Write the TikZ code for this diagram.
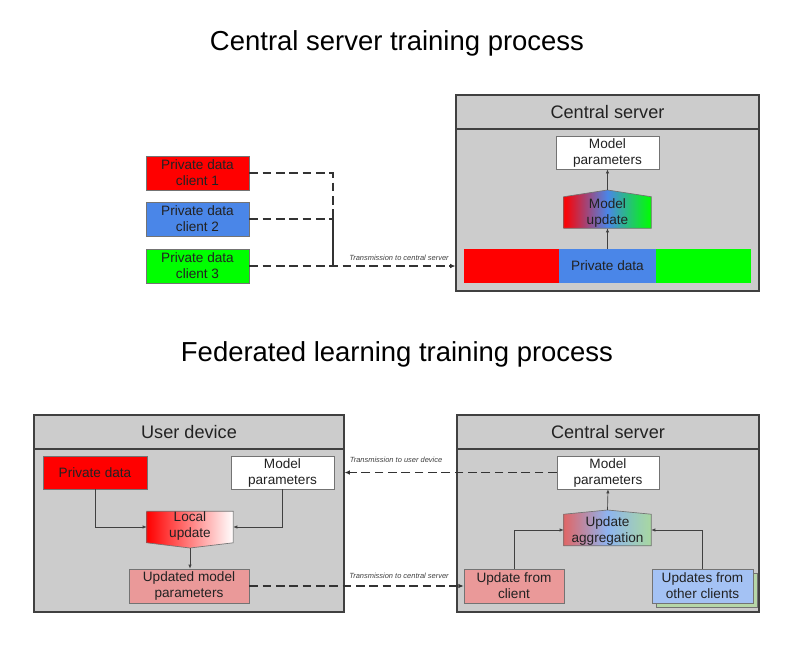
\documentclass[tikz,border=0pt]{standalone}
\usepackage{fontspec}
\setmainfont{Liberation Sans}
\usetikzlibrary{arrows.meta}
\definecolor{boxgray}{HTML}{CCCCCC}
\definecolor{cred}{HTML}{FF0000}
\definecolor{cblue}{HTML}{4A86E8}
\definecolor{cgreen}{HTML}{00FF00}
\definecolor{lred}{HTML}{EA9999}
\definecolor{lblue}{HTML}{A4C2F4}
\definecolor{lgreen}{HTML}{B6D7A8}
\definecolor{pred}{HTML}{E06666}
\definecolor{pblue}{HTML}{8EB4F0}
\definecolor{pgreen}{HTML}{A8D8A0}
\definecolor{txt}{HTML}{222222}
\begin{document}
\begin{tikzpicture}[x=0.75pt,y=-0.75pt,
  font=\fontsize{10.2}{12}\selectfont,
  bx/.style n args={2}{rectangle, inner sep=0pt, align=center, text=txt,
     minimum width=#1*0.75pt, minimum height=#2*0.75pt},
  frame/.style={draw=black!75, line width=0.8pt, fill=boxgray},
  hdr/.style={font=\fontsize{13.6}{15}\selectfont},
  inbox/.style={draw=black!55, line width=0.5pt},
  title/.style={font=\fontsize{20.6}{24}\selectfont, text=black},
  dsh/.style={draw=black!80, line width=1.1pt, dash pattern=on 6.5pt off 3.5pt},
  dtip/.style={-{Latex[length=4pt,width=3.5pt]}},
  conn/.style={draw=black!75, line width=0.5pt, -{Latex[length=3pt,width=2.5pt]}},
  lbl/.style={font=\fontsize{5.6}{6.5}\selectfont\itshape, text=black!75, inner sep=1pt}
]
\useasboundingbox (0,0) rectangle (793,646);

% titles
\node[title] (t1) at (397,43) {Central server training process};
\node[title] (t2) at (397,354) {Federated learning training process};

% ---------- top: central server ----------
\node[bx={303}{196}, frame] (srv1) at (607.5,193) {};
\node[bx={303}{34}, frame, hdr] (srv1h) at (607.5,112) {Central server};
\node[bx={103}{33}, inbox, fill=white] (mp1) at (607.5,152.5) {Model\\parameters};
\node[bx={87}{31}] (upd1) at (607.5,212.5) {};
\coordinate (upd1apex) at (607.5,190);
\shade[left color=cred, right color=cgreen, middle color=cblue, draw=black!55, line width=0.5pt]
  (upd1.south west) -- (upd1.north west) -- (upd1apex) -- (upd1.north east) -- (upd1.south east) -- cycle;
\node[bx={87}{31}] (upd1t) at (607.5,213) {Model\\update};
\node[bx={95}{34}, fill=cred] (pdr) at (511.5,266) {};
\node[bx={97}{34}, fill=cblue] (pdb) at (607.5,266) {Private data};
\node[bx={95}{34}, fill=cgreen] (pdg) at (703.5,266) {};
\draw[conn] (pdb.north) -- (upd1.south);
\draw[conn] (upd1apex) -- (mp1.south);

% clients
\node[bx={103}{34}, inbox, fill=cred] (c1) at (197.5,173) {Private data\\client 1};
\node[bx={103}{34}, inbox, fill=cblue] (c2) at (197.5,219) {Private data\\client 2};
\node[bx={103}{34}, inbox, fill=cgreen] (c3) at (197.5,266) {Private data\\client 3};
\coordinate (j1) at (333,266);
\draw[dsh] (c1.east) -| (j1);
\draw[dsh] (c2.east) -| (j1);
\draw[dsh, dtip] (c3.east) -- (c3.east -| srv1.west);
\node[lbl, anchor=south] (l1) at (399,262) {Transmission to central server};

% ---------- bottom: user device ----------
\node[bx={310}{197}, frame] (ud) at (189,513.5) {};
\node[bx={310}{34}, frame, hdr] (udh) at (189,432) {User device};
\node[bx={104}{33}, inbox, fill=cred] (pd2) at (95,472.5) {Private data};
\node[bx={103}{33}, inbox, fill=white] (mp2) at (282.5,472.5) {Model\\parameters};
\node[bx={86}{31}] (lu) at (190,527) {};
\coordinate (lutip) at (190,548);
\shade[left color=cred, right color=white, draw=black!55, line width=0.5pt]
  (lu.north west) -- (lu.south west) -- (lutip) -- (lu.south east) -- (lu.north east) -- cycle;
\node[bx={86}{31}] (lut) at (190,526) {Local\\update};
\node[bx={120}{34}, inbox, fill=lred] (ump) at (189,586) {Updated model\\parameters};
\draw[conn] (pd2.south) |- (lu.west);
\draw[conn] (mp2.south) |- (lu.east);
\draw[conn] (lutip) -- (lutip |- ump.north);

% ---------- bottom: central server ----------
\node[bx={302}{197}, frame] (cs2) at (608,513.5) {};
\node[bx={302}{34}, frame, hdr] (cs2h) at (608,432) {Central server};
\node[bx={102}{33}, inbox, fill=white] (mp3) at (608,472.5) {Model\\parameters};
\node[bx={87}{31}] (ag) at (607.5,530) {};
\coordinate (agapex) at (607.5,510);
\shade[left color=pred, right color=pgreen, middle color=pblue, draw=black!55, line width=0.5pt]
  (ag.south west) -- (ag.north west) -- (agapex) -- (ag.north east) -- (ag.south east) -- cycle;
\node[bx={87}{31}] (agt) at (607.5,530.5) {Update\\aggregation};
\node[bx={100}{34}, inbox, fill=lred] (ufc) at (514,586) {Update from\\client};
\node[bx={101}{34}, inbox, fill=lgreen] (uocs) at (706.5,590) {};
\node[bx={101}{34}, inbox, fill=lblue] (uoc) at (702.5,586) {Updates from\\other clients};
\draw[conn] (ufc.north) |- (ag.west);
\draw[conn] (uoc.north) |- (ag.east);
\draw[conn] (agapex) -- (mp3.south);

% transmissions
\draw[dsh, dtip] (mp3.west) -- (mp3.west -| ud.east);
\node[lbl, anchor=south] (l2) at (396,464) {Transmission to user device};
\draw[dsh, dtip] (ump.east) -- (ufc.west);
\node[lbl, anchor=south] (l3) at (399,580) {Transmission to central server};
\end{tikzpicture}
\end{document}
